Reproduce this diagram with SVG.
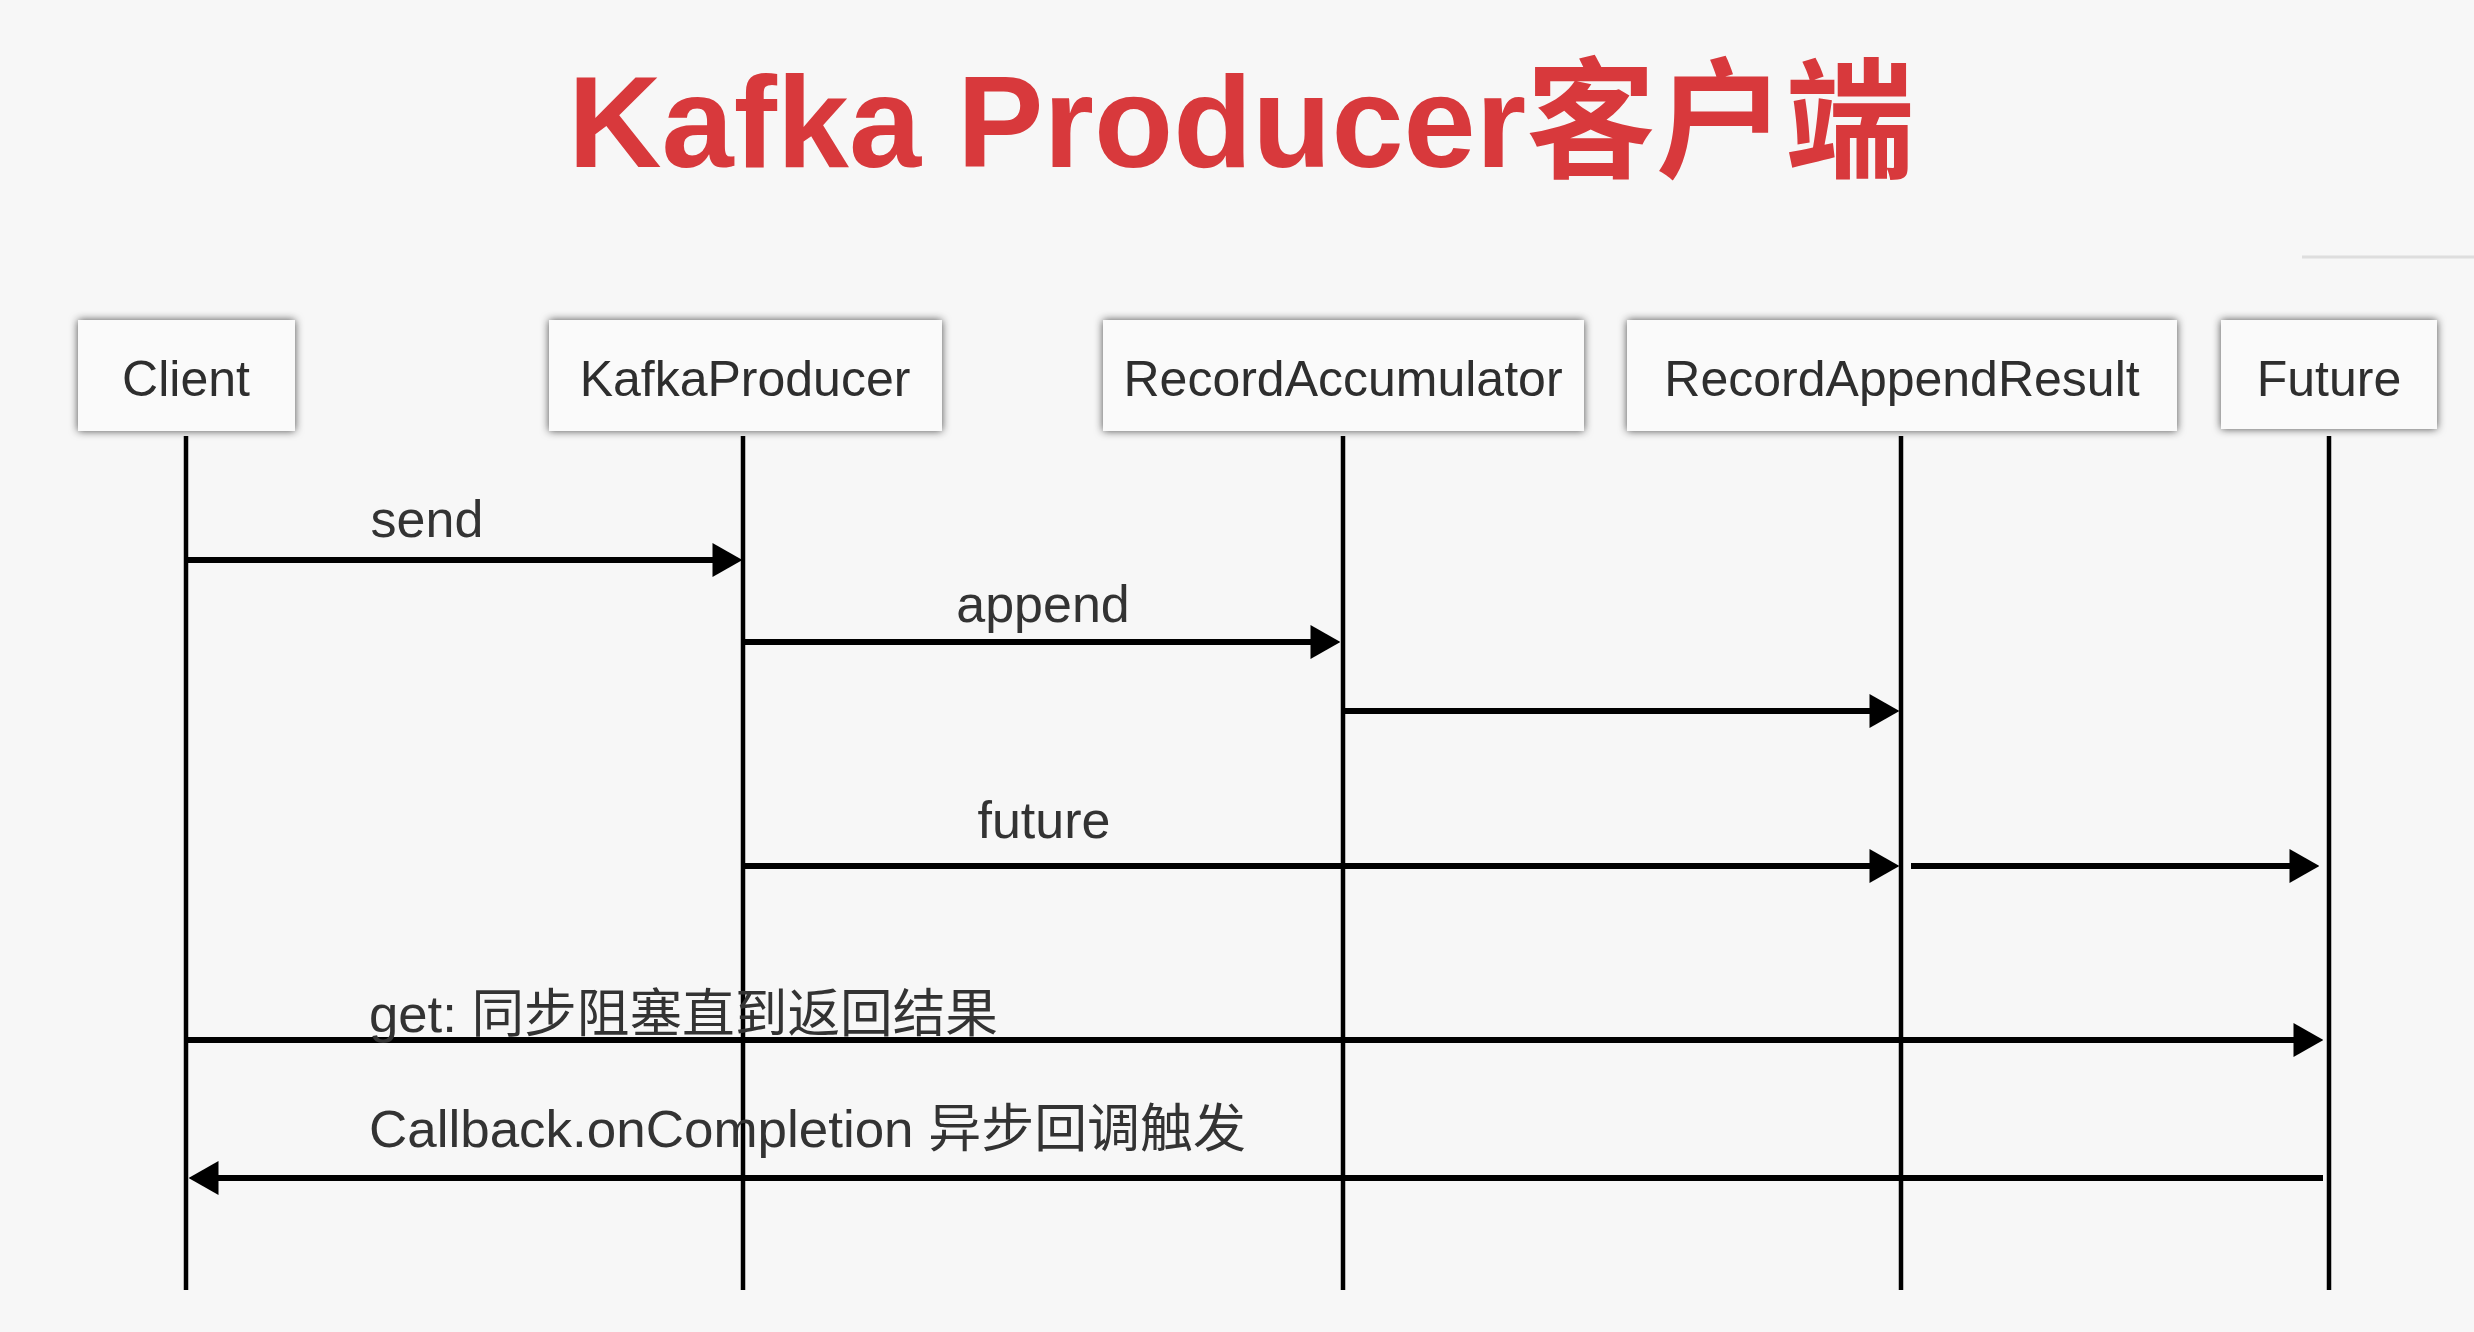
<svg xmlns="http://www.w3.org/2000/svg" width="2474" height="1332" viewBox="0 0 2474 1332">
  <style>
    .bg { fill: #f7f7f7; }
    .title { font-family: "Liberation Sans", "Noto Sans CJK SC", sans-serif; font-weight: bold; font-size: 130px; fill: #d8393c; }
    .box { fill: #fafafa; filter: url(#shadow); }
    .boxlabel { font-family: "Liberation Sans", "Noto Sans CJK SC", sans-serif; font-size: 50px; fill: #2e2e2e; text-anchor: middle; }
    .life { stroke: #000; stroke-width: 4.5; fill: none; }
    .msg { stroke: #000; stroke-width: 6; fill: none; marker-end: url(#arrow); }
    .label { font-family: "Liberation Sans", "Noto Sans CJK SC", sans-serif; font-size: 52px; fill: #333; }
    .mid { text-anchor: middle; }
  </style>
  <defs>
    <filter id="shadow" x="-10%" y="-25%" width="120%" height="150%">
      <feDropShadow dx="0" dy="0" stdDeviation="4" flood-color="#000" flood-opacity="0.7"/>
    </filter>
    <marker id="arrow" markerUnits="userSpaceOnUse" markerWidth="30" markerHeight="34" viewBox="0 0 28 32" refX="8" refY="16" orient="auto">
      <path d="M0,0 L28,16 L0,32 Z" fill="#000"/>
    </marker>
  </defs>

  <rect class="bg" x="0" y="0" width="2474" height="1332"/>
  <line x1="2302" y1="257" x2="2474" y2="257" stroke="#dedede" stroke-width="3"/>

  <g id="title">
    <text class="title" x="568" y="167" textLength="1347" lengthAdjust="spacingAndGlyphs">Kafka Producer客户端</text>
  </g>

  <g id="lifelines">
    <line class="life" x1="186" y1="436" x2="186" y2="1290"/>
    <line class="life" x1="743" y1="436" x2="743" y2="1290"/>
    <line class="life" x1="1343" y1="436" x2="1343" y2="1290"/>
    <line class="life" x1="1901" y1="436" x2="1901" y2="1290"/>
    <line class="life" x1="2329" y1="436" x2="2329" y2="1290"/>
  </g>

  <g id="node-client">
    <rect class="box" x="78" y="320" width="217" height="111"/>
    <text class="boxlabel" x="186" y="396">Client</text>
  </g>
  <g id="node-kafkaproducer">
    <rect class="box" x="549" y="320" width="393" height="111"/>
    <text class="boxlabel" x="745" y="396">KafkaProducer</text>
  </g>
  <g id="node-recordaccumulator">
    <rect class="box" x="1103" y="320" width="481" height="111"/>
    <text class="boxlabel" x="1343" y="396">RecordAccumulator</text>
  </g>
  <g id="node-recordappendresult">
    <rect class="box" x="1627" y="320" width="550" height="111"/>
    <text class="boxlabel" x="1902" y="396">RecordAppendResult</text>
  </g>
  <g id="node-future">
    <rect class="box" x="2221" y="320" width="216" height="109"/>
    <text class="boxlabel" x="2329" y="396">Future</text>
  </g>

  <g id="connectors">
    <path class="msg" d="M186,560 H721"/>
    <path class="msg" d="M743,642 H1319"/>
    <path class="msg" d="M1343,711 H1878"/>
    <path class="msg" d="M743,866 H1878"/>
    <path class="msg" d="M1911,866 H2298"/>
    <path class="msg" d="M186,1040 H2302"/>
    <path class="msg" d="M2323,1178 H210"/>
  </g>

  <g id="labels">
    <text class="label mid" x="427" y="537">send</text>
    <text class="label mid" x="1043" y="622">append</text>
    <text class="label mid" x="1044" y="838">future</text>
    <text class="label" x="369" y="1032" textLength="629" lengthAdjust="spacingAndGlyphs">get: 同步阻塞直到返回结果</text>
    <text class="label" x="369" y="1147" textLength="877" lengthAdjust="spacingAndGlyphs">Callback.onCompletion 异步回调触发</text>
  </g>
</svg>
